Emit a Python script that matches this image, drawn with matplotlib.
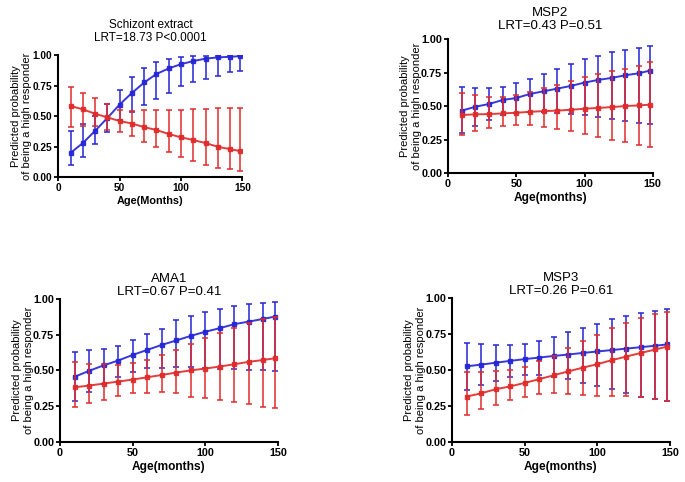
import matplotlib
matplotlib.use('Agg')
import matplotlib.pyplot as plt

plt.rcParams['font.family'] = ['Liberation Sans', 'DejaVu Sans']

# ages at which the model predictions are shown
ages = [10, 20, 30, 40, 50, 60, 70, 80, 90, 100, 110, 120, 130, 140, 148]

# Schizont extract
sch_blue = [0.20, 0.28, 0.38, 0.485, 0.595, 0.69, 0.775, 0.845, 0.89, 0.925, 0.95, 0.97, 0.98, 0.985, 0.99]
sch_blue_lo = [0.10, 0.17, 0.27, 0.37, 0.47, 0.53, 0.59, 0.64, 0.69, 0.75, 0.78, 0.80, 0.83, 0.86, 0.87]
sch_blue_hi = [0.375, 0.435, 0.50, 0.60, 0.71, 0.82, 0.89, 0.94, 0.967, 0.985, 0.99, 0.995, 0.995, 0.995, 0.995]
sch_red = [0.583, 0.556, 0.52, 0.49, 0.46, 0.44, 0.41, 0.387, 0.354, 0.327, 0.305, 0.28, 0.25, 0.23, 0.215]
sch_red_lo = [0.41, 0.42, 0.42, 0.39, 0.37, 0.34, 0.29, 0.245, 0.21, 0.17, 0.13, 0.10, 0.08, 0.07, 0.055]
sch_red_hi = [0.74, 0.69, 0.645, 0.60, 0.55, 0.54, 0.55, 0.55, 0.55, 0.55, 0.556, 0.56, 0.565, 0.57, 0.57]

# MSP2
msp2_blue = [0.465, 0.495, 0.515, 0.545, 0.56, 0.59, 0.61, 0.63, 0.65, 0.675, 0.695, 0.71, 0.73, 0.745, 0.765]
msp2_blue_lo = [0.30, 0.35, 0.395, 0.43, 0.445, 0.455, 0.455, 0.45, 0.44, 0.43, 0.415, 0.40, 0.39, 0.375, 0.365]
msp2_blue_hi = [0.64, 0.635, 0.635, 0.645, 0.67, 0.70, 0.74, 0.78, 0.815, 0.85, 0.875, 0.90, 0.92, 0.935, 0.945]
msp2_red = [0.433, 0.438, 0.44, 0.445, 0.45, 0.457, 0.462, 0.466, 0.472, 0.48, 0.486, 0.492, 0.50, 0.505, 0.51]
msp2_red_lo = [0.285, 0.31, 0.333, 0.35, 0.358, 0.358, 0.346, 0.33, 0.31, 0.29, 0.27, 0.25, 0.23, 0.21, 0.195]
msp2_red_hi = [0.60, 0.58, 0.57, 0.565, 0.58, 0.605, 0.635, 0.66, 0.69, 0.72, 0.74, 0.76, 0.78, 0.80, 0.825]

# AMA1
ama1_blue = [0.455, 0.497, 0.535, 0.569, 0.608, 0.643, 0.678, 0.709, 0.741, 0.77, 0.795, 0.823, 0.841, 0.86, 0.876]
ama1_blue_lo = [0.287, 0.347, 0.405, 0.452, 0.49, 0.515, 0.52, 0.522, 0.522, 0.515, 0.508, 0.508, 0.503, 0.50, 0.499]
ama1_blue_hi = [0.63, 0.64, 0.65, 0.674, 0.713, 0.755, 0.79, 0.85, 0.88, 0.91, 0.93, 0.95, 0.965, 0.974, 0.98]
ama1_red = [0.382, 0.394, 0.408, 0.422, 0.436, 0.452, 0.468, 0.485, 0.50, 0.513, 0.527, 0.543, 0.56, 0.573, 0.585]
ama1_red_lo = [0.242, 0.27, 0.294, 0.324, 0.34, 0.345, 0.347, 0.34, 0.317, 0.31, 0.294, 0.282, 0.266, 0.247, 0.235]
ama1_red_hi = [0.557, 0.545, 0.545, 0.54, 0.555, 0.573, 0.61, 0.643, 0.685, 0.725, 0.76, 0.795, 0.83, 0.858, 0.876]

# MSP3
msp3_blue = [0.525, 0.537, 0.55, 0.563, 0.575, 0.586, 0.597, 0.607, 0.618, 0.628, 0.638, 0.648, 0.658, 0.668, 0.677]
msp3_blue_lo = [0.36, 0.396, 0.426, 0.454, 0.468, 0.462, 0.45, 0.435, 0.41, 0.39, 0.366, 0.338, 0.315, 0.30, 0.287]
msp3_blue_hi = [0.69, 0.678, 0.67, 0.67, 0.68, 0.70, 0.73, 0.76, 0.79, 0.82, 0.85, 0.873, 0.893, 0.91, 0.92]
msp3_red = [0.315, 0.338, 0.366, 0.386, 0.41, 0.436, 0.463, 0.49, 0.516, 0.54, 0.568, 0.593, 0.618, 0.642, 0.662]
msp3_red_lo = [0.19, 0.227, 0.257, 0.29, 0.315, 0.33, 0.338, 0.335, 0.328, 0.322, 0.32, 0.316, 0.31, 0.298, 0.287]
msp3_red_hi = [0.488, 0.488, 0.49, 0.50, 0.52, 0.563, 0.60, 0.65, 0.70, 0.745, 0.79, 0.825, 0.86, 0.885, 0.90]

BLUE = '#2626d6'
RED = '#e02b2b'


def draw_series(ax, x, mean, lo, hi, color, z):
    yerr = [[m - l for m, l in zip(mean, lo)], [h - m for m, h in zip(mean, hi)]]
    ax.errorbar(x, mean, yerr=yerr, color=color, ecolor=color, lw=1.4,
                elinewidth=1.2, capsize=2.5, capthick=1.2, marker='s',
                markersize=2.8, zorder=z, alpha=0.92)


def style_axes(ax, title, xlabel, title_size, pad, small):
    ax.set_xlim(0, 150)
    ax.set_ylim(0, 1)
    ax.set_xticks([0, 50, 100, 150])
    ax.set_yticks([0, 0.25, 0.5, 0.75, 1.0])
    ax.set_yticklabels(['0.00', '0.25', '0.50', '0.75', '1.00'])
    for side in ['top', 'right']:
        ax.spines[side].set_visible(False)
    for side in ['left', 'bottom']:
        ax.spines[side].set_linewidth(1.5)
    ax.tick_params(direction='out', length=3, width=1.3,
                   labelsize=7.3 if small else 7.8, pad=1.2)
    for lab in ax.get_xticklabels() + ax.get_yticklabels():
        lab.set_fontweight('bold')
    ax.set_xlabel(xlabel, fontsize=7.8 if small else 8.6, fontweight='bold', labelpad=2)
    ax.set_ylabel('Predicted probability\nof being a high responder', fontsize=8)
    # put the y label a fixed number of pixels left of the axis
    width_px = ax.get_position().width * 685
    ax.yaxis.set_label_coords(-26.0 / width_px, 0.5)
    ax.set_title(title, fontsize=title_size, pad=pad, linespacing=1.1)


def main():
    fig = plt.figure(figsize=(6.85, 4.82), dpi=100)
    panels = [
        ([0.085, 0.632, 0.269, 0.254], 'Schizont extract\nLRT=18.73 P<0.0001', 'Age(Months)', 8.5, 10, True,
         sch_blue, sch_blue_lo, sch_blue_hi, sch_red, sch_red_lo, sch_red_hi),
        ([0.654, 0.641, 0.299, 0.278], 'MSP2\nLRT=0.43 P=0.51', 'Age(months)', 9.5, 7, False,
         msp2_blue, msp2_blue_lo, msp2_blue_hi, msp2_red, msp2_red_lo, msp2_red_hi),
        ([0.0876, 0.083, 0.318, 0.297], 'AMA1\nLRT=0.67 P=0.41', 'Age(months)', 9.5, 3, False,
         ama1_blue, ama1_blue_lo, ama1_blue_hi, ama1_red, ama1_red_lo, ama1_red_hi),
        ([0.660, 0.083, 0.318, 0.299], 'MSP3\nLRT=0.26 P=0.61', 'Age(months)', 9.5, 3, False,
         msp3_blue, msp3_blue_lo, msp3_blue_hi, msp3_red, msp3_red_lo, msp3_red_hi),
    ]
    for rect, title, xlabel, tsize, pad, small, b, blo, bhi, r, rlo, rhi in panels:
        ax = fig.add_axes(rect)
        draw_series(ax, ages, b, blo, bhi, BLUE, 3)
        draw_series(ax, ages, r, rlo, rhi, RED, 4)
        style_axes(ax, title, xlabel, tsize, pad, small)
    fig.savefig('out.png', dpi=100)


if __name__ == '__main__':
    main()
